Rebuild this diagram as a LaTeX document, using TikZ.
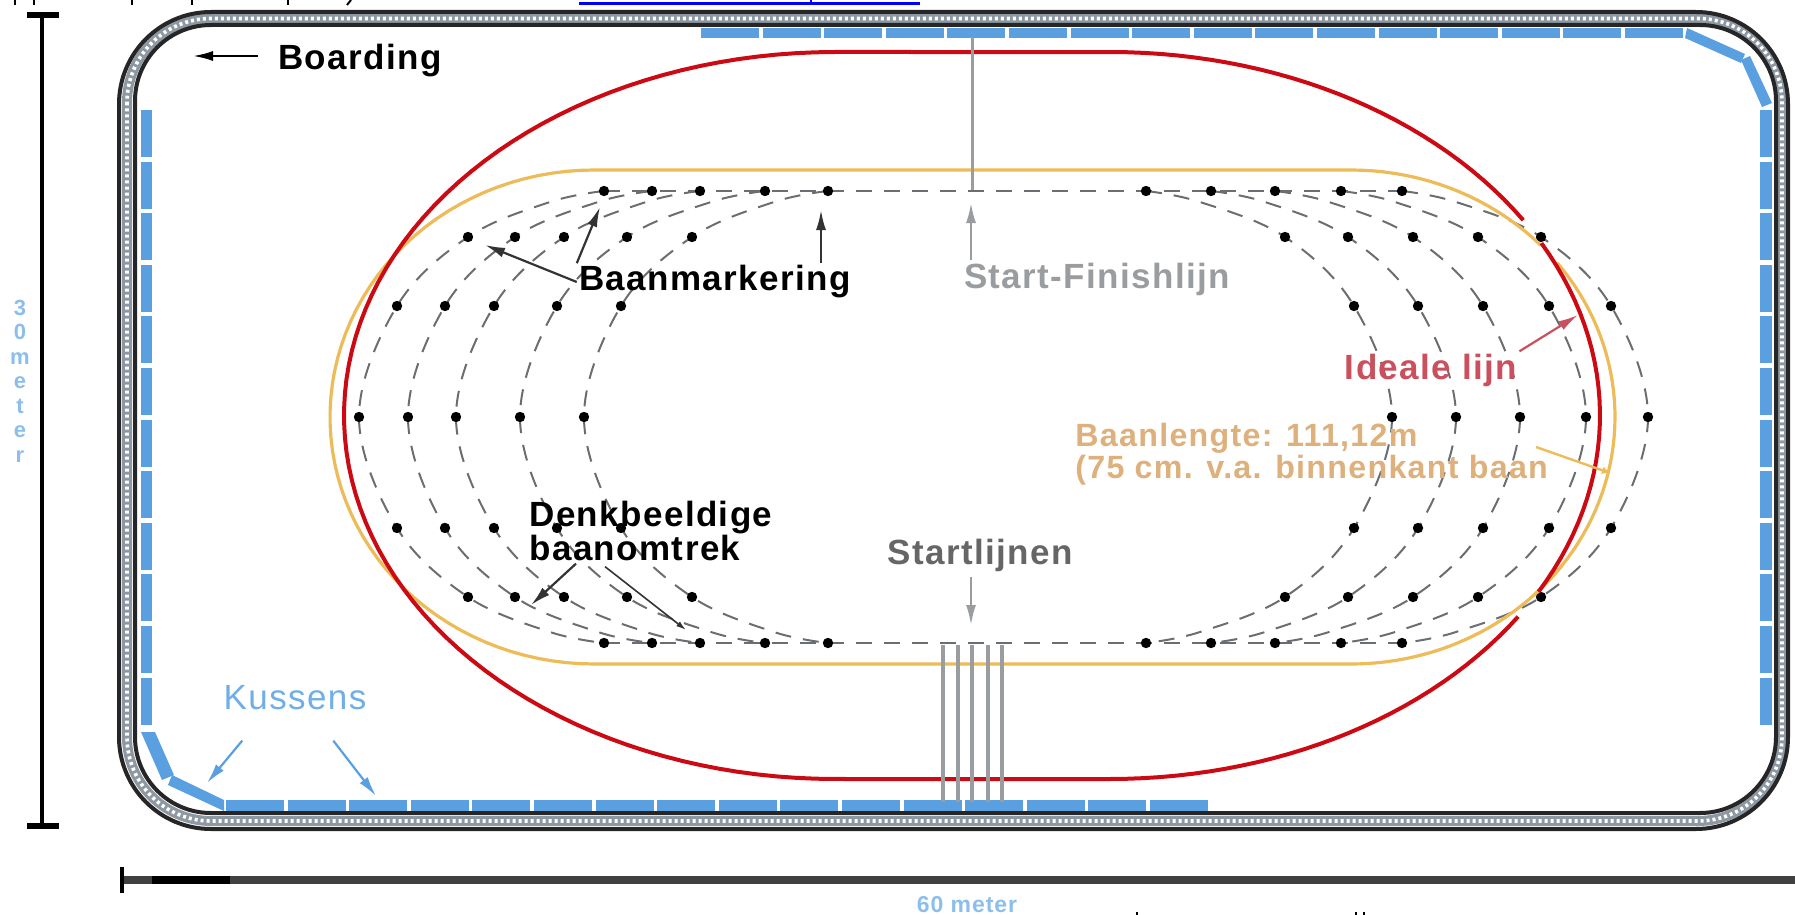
\documentclass[tikz,border=0pt]{standalone}
\usepackage{fontspec}
\setmainfont{Liberation Sans}
\newfontfamily\lblfont[LetterSpace=4]{Liberation Sans}
\usetikzlibrary{arrows.meta}
\definecolor{pillowblue}{HTML}{5A9FE0}
\definecolor{kussenblue}{HTML}{6FAEE8}
\definecolor{idealred}{HTML}{CC0A14}
\definecolor{idealtext}{HTML}{C9505C}
\definecolor{trackyellow}{HTML}{EDBB58}
\definecolor{lengthtan}{HTML}{DDB07C}
\definecolor{ringgray}{HTML}{6A6E72}
\definecolor{linegray}{HTML}{9A9DA0}
\definecolor{startgray}{HTML}{666666}
\definecolor{bandgray}{HTML}{8E98A2}
\tikzset{
    lbl/.style={inner sep=1pt, font=\lblfont\fontsize{17.5}{16}\selectfont},
    lblbold/.style={lbl, font=\lblfont\bfseries\fontsize{17.5}{16}\selectfont},
    leader/.style={-{Latex[length=10pt,width=5pt]}, line width=1.1pt},
    pillow/.style={fill=pillowblue, draw=none},
    ringline/.style={ringgray, line width=1pt, dash pattern=on 8pt off 6pt},
    dimline/.style={line width=2.2pt, black},
}

\begin{document}
\begin{tikzpicture}[x=.5pt, y=-.5pt]
\useasboundingbox (0,0) rectangle (1795,915);

% boarding
\draw[line width=5pt, bandgray] [rounded corners=42pt] (127,18.5) rectangle (1782,821);
\draw[line width=1.8pt, white, dash pattern=on 1.5pt off 1.5pt] [rounded corners=42pt] (127,18.5) rectangle (1782,821);
\draw[line width=2pt, black!85] [rounded corners=46pt] (119,12) rectangle (1788,829);
\draw[line width=2pt, black!85] [rounded corners=38pt] (135,25) rectangle (1776,813);

% kussens
\foreach \i in {0,...,15} {
    \fill[pillow] ({701+61.6*\i},28) rectangle ++(58,10);
    \fill[pillow] ({226+61.6*\i},800) rectangle ++(58,11);
}
\foreach \i in {0,...,11} {
    \fill[pillow] (141,{110+51.6*\i}) rectangle ++(11,47);
    \fill[pillow] (1760,{110+51.6*\i}) rectangle ++(12,47);
}
\fill[pillow] (1687,28) -- (1685,38) -- (1741,63) -- (1745,54) -- cycle;
\fill[pillow] (1741,60) -- (1762,107) -- (1772,103) -- (1750,56) -- cycle;
\fill[pillow] (141,732) -- (155,732) -- (174,775) -- (162,780) -- cycle;
\fill[pillow] (172,775) -- (224,800) -- (224,811) -- (168,785) -- cycle;

% denkbeeldige baanomtrek
\draw[ringline] (604,191) -- (1402,191);
\draw[ringline] (604,643) -- (1402,643);
\foreach \a/\b/\c/\d/\e/\f/\g/\h in {
    604/468/397/359/1402/1541/1611/1648,
    652/515/445/408/1341/1478/1549/1586,
    700/564/494/456/1275/1413/1483/1520,
    765/627/557/520/1211/1348/1418/1456,
    828/692/621/584/1146/1285/1354/1392} {
    \draw[ringline] plot[smooth, tension=.6] coordinates
        {(\a,191) (\a-54,202) (\b,237) (\c,306) (\d,417) (\c,528) (\b,597) (\a-54,632) (\a,643)};
    \draw[ringline] plot[smooth, tension=.6] coordinates
        {(\e,191) (\e+54,202) (\f,237) (\g,306) (\h,417) (\g,528) (\f,597) (\e+54,632) (\e,643)};
    \foreach \x/\y in {\a/191, \b/237, \c/306, \d/417, \c/528, \b/597, \a/643,
                       \e/191, \f/237, \g/306, \h/417, \g/528, \f/597, \e/643}
        \fill[black] (\x,\y) circle[radius=2.6pt];
}

% baan
\draw[trackyellow, line width=1.6pt]
    plot[domain=-36.8:-90, samples=30] ({1351+264*cos(\x)},{417-247*sin(\x)})
    -- plot[domain=-90:-270, samples=60] ({594+264*cos(\x)},{417-247*sin(\x)})
    -- plot[domain=90:44, samples=20] ({1351+264*cos(\x)},{417-247*sin(\x)});
\draw[trackyellow, line width=1.6pt]
    plot[domain=38.6:-46, samples=40] ({1351+264*cos(\x)},{417-247*sin(\x)});
\draw[idealred, line width=2pt]
    plot[domain=32.5:90, samples=30] ({1110+490*cos(\x)},{415.5-363.5*sin(\x)})
    -- plot[domain=90:270, samples=80] ({835+491*cos(\x)},{415.5-363.5*sin(\x)})
    -- plot[domain=-90:-33.6, samples=30] ({1110+490*cos(\x)},{415.5-363.5*sin(\x)});
\draw[idealred, line width=2pt]
    plot[domain=-29:28.3, samples=30] ({1110+490*cos(\x)},{415.5-363.5*sin(\x)});

% lijnen
\foreach \x in {943,958,972,988,1002}
    \draw[linegray, line width=2pt] (\x,645) -- (\x,802);
\draw[linegray, line width=1.5pt] (972,37) -- (972,190);

% maten
\draw[dimline] (42,15) -- (42,826);
\draw[line width=3pt, black] (27,15) -- (59,15);
\draw[line width=3pt, black] (27,826) -- (59,826);
\draw[line width=4pt, black!75] (122,880) -- (1795,880);
\draw[line width=2pt, black] (122,867) -- (122,893);
\draw[line width=4pt, black] (152,880) -- (230,880);

% afgesneden tekst
\draw[blue, line width=1.5pt] (579,4) -- (920,4);
\draw[blue, line width=.6pt] (811,0) -- (811,4);
\foreach \x in {15,34,132,192,288}
    \draw[black, line width=1pt] (\x,0) -- (\x,5);
\draw[black, line width=1pt] (351,0) -- (347,5);
\foreach \x in {1137,1356,1364}
    \draw[black, line width=1pt] (\x,912) -- (\x,915);

% labels
\node[lblbold] (boarding) at (360,61) {Boarding};
\node[lblbold] (markering) at (715,282) {Baanmarkering};
\node[lblbold, text=linegray] (finish) at (1097,279) {Start-Finishlijn};
\node[lblbold, text=idealtext] (ideaal) at (1431,370) {Ideale lijn};
\node[lblbold, text=lengthtan, anchor=west, align=left, font=\lblfont\bfseries\fontsize{16.1}{15}\selectfont] (lengte) at (1073,454)
    {Baanlengte: 111,12m\\(75 cm. v.a. binnenkant baan};
\node[lblbold, anchor=west, align=left] (omtrek) at (527,531) {Denkbeeldige\\baanomtrek};
\node[lblbold, text=startgray] (startlijn) at (980,555) {Startlijnen};
\node[lbl, text=kussenblue] (kussens) at (295,698) {Kussens};
\node[lblbold, text=kussenblue!80, font=\lblfont\bfseries\fontsize{11.5}{12}\selectfont] (zestig) at (967,905) {60 meter};
\node[lblbold, text=kussenblue!80, align=center, font=\bfseries\fontsize{11}{12.25}\selectfont] (dertig) at (20,381) {3\\0\\m\\e\\t\\e\\r};

\coordinate (tipboard) at (193,56);
\coordinate (tipm1) at (485,245);
\coordinate (tipm2) at (600,207);
\coordinate (tipm3) at (821,210);
\coordinate (tipf) at (971,203);
\coordinate (tips) at (971,625);
\coordinate (tipi) at (1578,315);
\coordinate (tipl) at (1610,473);
\coordinate (tipo1) at (531,605);
\coordinate (tipo2) at (686,630);
\coordinate (tipk1) at (207,783);
\coordinate (tipk2) at (376,796);

\draw[leader, black, shorten <=9pt] (boarding.west |- tipboard) -- (tipboard);
\draw[leader, black!80] (markering.west) -- (tipm1);
\draw[leader, black!80] (markering.north west) -- (tipm2);
\draw[leader, black!80] (tipm3 |- markering.north) -- (tipm3);
\draw[leader, linegray] (tipf |- finish.north west) -- (tipf);
\draw[leader, linegray] (tips |- 0,577) -- (tips);
\draw[leader, idealtext] (ideaal.north east) -- (tipi);
\draw[-{Latex[length=4pt,width=4pt]}, trackyellow, line width=1.2pt] (1536,447) -- (tipl);
\draw[leader, black!80] (omtrek.south west)++(49,0) -- (tipo1);
\draw[leader, black!80, line width=.8pt, -{Latex[length=5pt,width=3pt]}] (omtrek.south west)++(78,3) -- (tipo2);
\draw[leader, pillowblue] (kussens.south west)++(21,28) -- (tipk1);
\draw[leader, pillowblue] (kussens.south west)++(112,28) -- (tipk2);
\end{tikzpicture}
\end{document}
